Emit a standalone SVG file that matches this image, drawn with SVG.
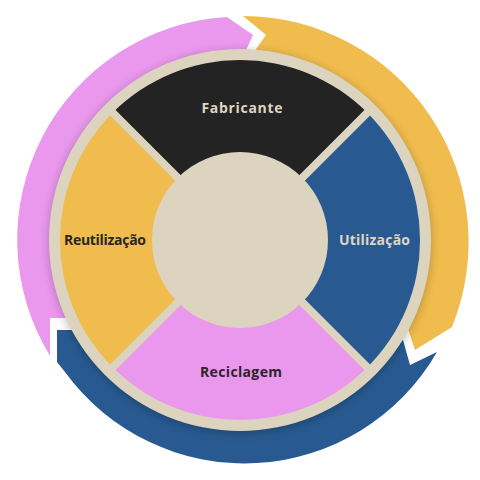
<svg xmlns="http://www.w3.org/2000/svg" width="480" height="480" viewBox="0 0 480 480">
  <defs>
    <filter id="shadow" x="-20%" y="-20%" width="140%" height="140%">
      <feGaussianBlur stdDeviation="4"/>
    </filter>
    <style>
      .lbl { font-family: "Open Sans", "Liberation Sans", sans-serif; font-weight: bold; font-size: 14px; text-anchor: middle; }
      .light { fill: #DED6C2; }
      .dark { fill: #2A2627; }
      .sep { stroke: #DCD4BF; stroke-width: 8; }
    </style>
  </defs>
  <rect width="480" height="480" fill="#FFFFFF"/>

  <g id="connectors">
    <path id="arrow-pink" fill="#EA98EE" d="M50,356 A223,223 0 0 1 227,17 L253,35 L243,57 L150,80 L70,180 L65,300 L80,318 L50,318 Z"/>
    <path id="arrow-yellow" fill="#F0BC4E" d="M243,16 A226,226 0 0 1 452,327 L415,350 L405,320 L420,240 L370,110 L251,56 L266,35 Z"/>
    <path id="arrow-blue" fill="#285A91" d="M437,352 A222,222 0 0 1 65,372 L57,362 L57,330 L90,330 L240,420 L380,350 L403,340 L410,365 Z"/>
  </g>

  <circle cx="240" cy="242" r="192" fill="#000000" opacity="0.2" filter="url(#shadow)"/>
  <circle cx="240" cy="240" r="191" fill="#DCD4BF"/>

  <g id="seg-fabricante">
    <path fill="#242323" d="M240,240 L112.7,112.7 A180,180 0 0 1 367.3,112.7 Z"/>
    <text class="lbl light" x="242" y="113" textLength="81" lengthAdjust="spacing">Fabricante</text>
  </g>
  <g id="seg-utilizacao">
    <path fill="#285A91" d="M240,240 L367.3,112.7 A180,180 0 0 1 367.3,367.3 Z"/>
  </g>
  <g id="seg-reciclagem">
    <path fill="#EA98EE" d="M240,240 L367.3,367.3 A180,180 0 0 1 112.7,367.3 Z"/>
  </g>
  <g id="seg-reutilizacao">
    <path fill="#F0BC4E" d="M240,240 L112.7,367.3 A180,180 0 0 1 112.7,112.7 Z"/>
  </g>

  <g id="separators">
    <line class="sep" x1="110" y1="110" x2="370" y2="370"/>
    <line class="sep" x1="370" y1="110" x2="110" y2="370"/>
  </g>

  <circle id="hub" cx="240" cy="240" r="88" fill="#DCD4BF"/>

  <text class="lbl light" x="374.5" y="244.5" textLength="71" lengthAdjust="spacing">Utilização</text>
  <text class="lbl dark" x="241" y="377" textLength="82" lengthAdjust="spacing">Reciclagem</text>
  <text class="lbl dark" x="105" y="244.5" textLength="82" lengthAdjust="spacing">Reutilização</text>
</svg>
